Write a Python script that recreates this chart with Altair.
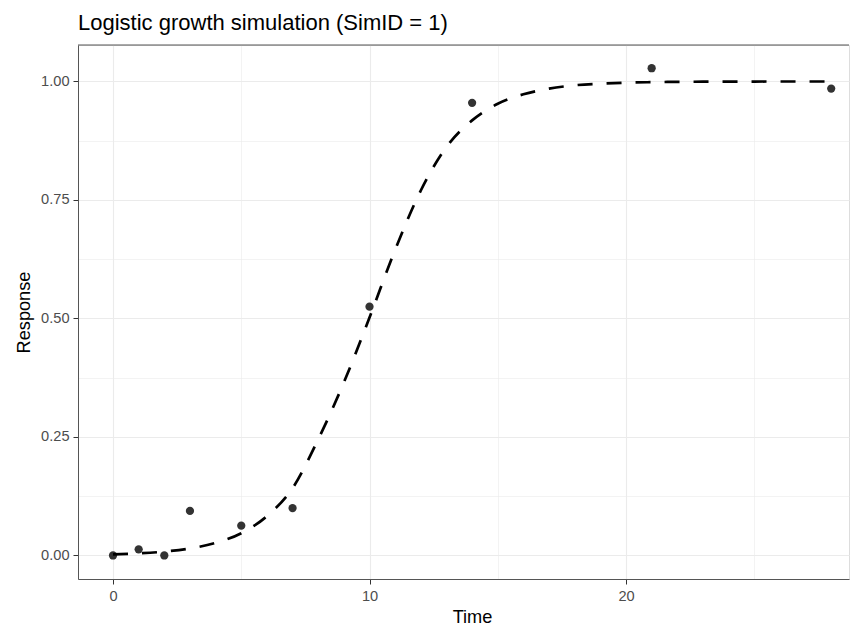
import altair as alt
import pandas as pd

obs_time = [0, 1, 2, 3, 5, 7, 10, 14, 21, 28]
obs_resp = [0.0, 0.013, 0.0, 0.094, 0.063, 0.100, 0.525, 0.955, 1.028, 0.985]

# Fitted dashed curve (values at each time unit)
fit_time = list(range(29))
fit_resp = [0.0025, 0.0045, 0.0082, 0.0148, 0.0266, 0.047, 0.083, 0.142, 0.245,
            0.365, 0.502, 0.645, 0.770, 0.862, 0.918, 0.953, 0.973, 0.985,
            0.992, 0.9955, 0.9975, 0.9986, 0.9992, 0.9996, 0.9998, 0.9999,
            1.0, 1.0, 1.0]

x_ticks = [0, 5, 10, 15, 20, 25]
y_ticks = [0, 0.125, 0.25, 0.375, 0.5, 0.625, 0.75, 0.875, 1.0]

obs = pd.DataFrame({"Time": obs_time, "Response": obs_resp})
fit = pd.DataFrame({"Time": fit_time, "Response": fit_resp})

FONT = "Liberation Sans"
W, H = 771, 534

xscale = alt.Scale(domain=[-1.365, 28.694], nice=False, zero=False)
yscale = alt.Scale(domain=[-0.0496, 1.0770], nice=False, zero=False)

xaxis = alt.Axis(
    values=x_ticks,
    labelExpr="datum.value % 10 == 0 ? datum.label : ''",
    title="Time",
    titleX=394, titleY=43, titleBaseline="alphabetic", titleAnchor="start", titleAlign="center",
    tickOpacity={"condition": {"test": "datum.value % 10 == 0", "value": 1}, "value": 0},
    gridWidth={"condition": {"test": "datum.value % 10 == 0", "value": 1.1}, "value": 0.6},
    gridColor="#ebebeb",
    tickSize=5, tickColor="#333333", labelPadding=4,
    domainColor="#555555", domainWidth=1,
    labelFont=FONT, labelFontSize=14.6, labelColor="#4d4d4d",
    titleFont=FONT, titleFontSize=18.2, titleColor="#000000", titleFontWeight="normal",
)

yaxis = alt.Axis(
    values=y_ticks,
    format=".2f",
    labelExpr="(datum.value * 4) % 1 == 0 ? datum.label : ''",
    title="Response",
    titleX=-49, titleY=267, titleBaseline="alphabetic", titleAlign="center", titleAngle=-90,
    tickOpacity={"condition": {"test": "(datum.value * 4) % 1 == 0", "value": 1}, "value": 0},
    gridWidth={"condition": {"test": "(datum.value * 4) % 1 == 0", "value": 1.1}, "value": 0.6},
    gridColor="#ebebeb",
    tickSize=5, tickColor="#333333", labelPadding=4,
    domainColor="#555555", domainWidth=1,
    labelFont=FONT, labelFontSize=14.6, labelColor="#4d4d4d",
    titleFont=FONT, titleFontSize=18.2, titleColor="#000000", titleFontWeight="normal",
)

points = alt.Chart(obs).mark_circle(size=68, color="#333333", opacity=1).encode(
    x=alt.X("Time:Q", scale=xscale, axis=xaxis),
    y=alt.Y("Response:Q", scale=yscale, axis=yaxis),
)

curve = alt.Chart(fit).mark_line(
    color="#000000", strokeWidth=2.7, strokeDash=[15, 14], interpolate="monotone"
).encode(
    x=alt.X("Time:Q", scale=xscale),
    y=alt.Y("Response:Q", scale=yscale),
)

top_border = alt.Chart(pd.DataFrame({"k": [0]})).mark_rule(
    color="#555555", strokeWidth=1
).encode(
    x=alt.value(0), x2=alt.value(W), y=alt.value(0)
)

chart = alt.layer(points, curve, top_border).properties(
    width=W,
    height=H,
    padding={"left": 78, "top": 45, "right": 1, "bottom": 46},
    autosize=alt.AutoSizeParams(type="none"),
    title=alt.TitleParams(
        "Logistic growth simulation (SimID = 1)",
        anchor="start", frame="group", font=FONT, fontSize=22,
        fontWeight="normal", color="#000000", offset=15, baseline="alphabetic",
        dy=22,
    ),
).configure_view(stroke=None).configure(background="white")

chart.save("out.html", embed_options={"renderer": "svg", "actions": False})
